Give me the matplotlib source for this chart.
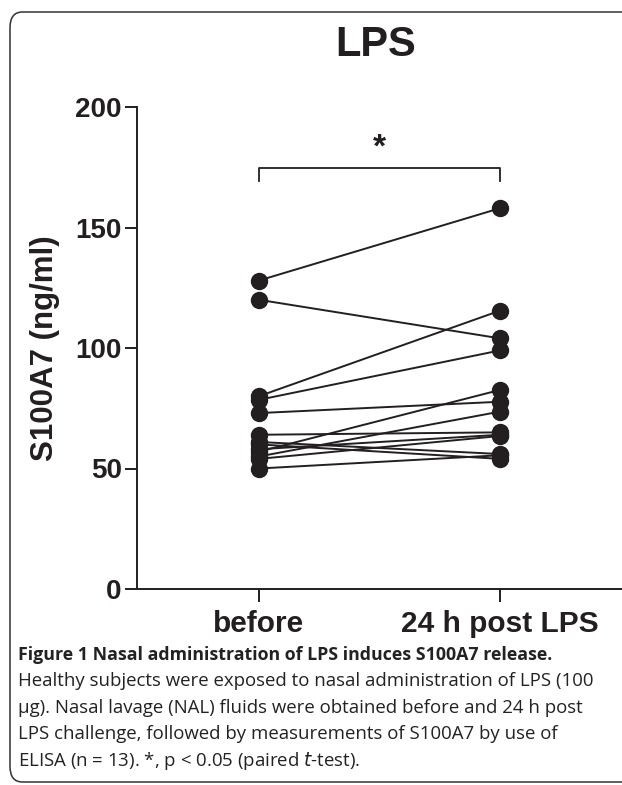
import matplotlib
matplotlib.use("Agg")
import matplotlib.pyplot as plt
from matplotlib.patches import FancyBboxPatch

# paired S100A7 values (ng/ml), one entry per subject
before = [128, 120, 80, 78.5, 73, 57, 55, 64, 61, 60, 58, 54, 50]
after = [158, 104, 115.5, 99, 77.7, 82.6, 73.6, 65, 56, 54, 64, 63.5, 55.5]
groups = ["before", "24 h post LPS"]
yticks = [0, 50, 100, 150, 200]

ink = "#231f20"
plt.rcParams["font.family"] = ["Liberation Sans", "DejaVu Sans"]

fig = plt.figure(figsize=(6.22, 7.85), dpi=100)

# rounded frame around the figure (runs off the right edge)
frame = FancyBboxPatch((10 / 622, 3 / 785), 1.2, 770 / 785, transform=fig.transFigure,
                       boxstyle="round,pad=0,rounding_size=0.02",
                       fill=False, edgecolor="#333333", linewidth=1.1)
fig.patches.append(frame)

ax = fig.add_axes([137 / 622, 196 / 785, 485 / 622, 482 / 785])
for b, a in zip(before, after):
    ax.plot([0, 1], [b, a], color=ink, linewidth=1.4, marker="o",
            markersize=11.5, markerfacecolor=ink, markeredgecolor=ink,
            clip_on=False)

ax.set_xlim(-0.506, 1.506)
ax.set_ylim(0, 200)
ax.set_xticks([0, 1])
ax.set_xticklabels(groups, fontsize=21.5, fontweight="bold", color=ink)
ax.set_yticks(yticks)
ax.set_yticklabels([str(t) for t in yticks], fontsize=20, fontweight="bold", color=ink)
ax.tick_params(axis="y", length=9, width=1.4, pad=2, colors=ink)
ax.tick_params(axis="x", length=9, width=1.4, pad=6, colors=ink)
for side in ["top", "right"]:
    ax.spines[side].set_visible(False)
for side in ["left", "bottom"]:
    ax.spines[side].set_linewidth(1.4)
    ax.spines[side].set_color(ink)
ax.set_ylabel("S100A7 (ng/ml)", fontsize=22.5, fontweight="bold", color=ink)
ax.yaxis.set_label_coords(-77 / 485, 0.5)

# significance bracket
ax.plot([0, 0, 1, 1], [169.5, 174.7, 174.7, 169.5], color=ink, linewidth=1.3, clip_on=False)
ax.text(0.5, 176.5, "*", ha="center", va="bottom", fontsize=24, fontweight="bold", color=ink)

fig.text(376 / 622, 1 - 45 / 785, "LPS", ha="center", va="center",
         fontsize=30, fontweight="bold", color=ink)

# caption
cap_font = ["Open Sans", "DejaVu Sans"]
cap_color = "#222222"
fig.text(18 / 622, 1 - 655 / 785, "Figure 1 Nasal administration of LPS induces S100A7 release.",
         family=cap_font, fontsize=12.8, fontweight="bold", color=cap_color, va="center")
lines = [
    "Healthy subjects were exposed to nasal administration of LPS (100",
    "\u00b5g). Nasal lavage (NAL) fluids were obtained before and 24 h post",
    "LPS challenge, followed by measurements of S100A7 by use of",
]
ys = [681, 708, 734]
for line, y in zip(lines, ys):
    fig.text(18 / 622, 1 - y / 785, line, family=cap_font, fontsize=13.4,
             color=cap_color, va="center")
fig.text(18 / 622, 1 - 761 / 785,
         r"ELISA (n = 13). *, p < 0.05 (paired $\it{t}$-test).",
         family=cap_font, fontsize=13.4, color=cap_color, va="center")

fig.savefig("out.png", dpi=100)
